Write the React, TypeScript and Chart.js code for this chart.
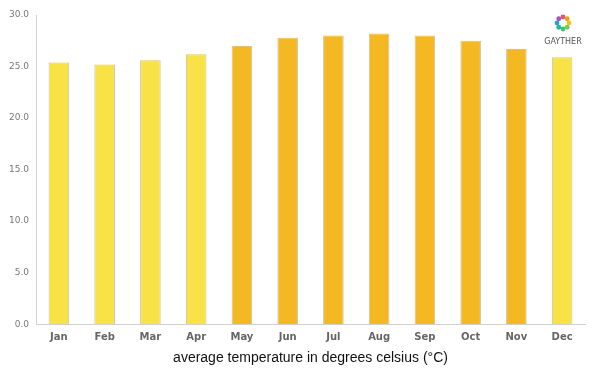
import React, { useEffect, useRef } from "react";
import { Chart, registerables } from "chart.js";

Chart.register(...registerables);

const months = ["Jan", "Feb", "Mar", "Apr", "May", "Jun", "Jul", "Aug", "Sep", "Oct", "Nov", "Dec"];
const temps = [25.4, 25.2, 25.6, 26.2, 27.0, 27.8, 28.0, 28.2, 28.0, 27.5, 26.7, 25.9];
const warmMonths = [false, false, false, false, true, true, true, true, true, true, true, false];
const yTicks = [0, 5, 10, 15, 20, 25, 30];
const axisTitle = "average temperature in degrees celsius (°C)";

const YELLOW = "#F9E245";
const ORANGE = "#F4B823";

const logoPlugin = {
  id: "logo",
  afterDraw(chart: any) {
    const ctx = chart.ctx;
    const cx = 563, cy = 23;
    const colors = ["#e94e77", "#f39c12", "#f1c40f", "#8bc34a", "#2ecc71", "#1abc9c", "#3498db", "#9b59b6"];
    ctx.save();
    for (let i = 0; i < 8; i++) {
      const a = (i / 8) * Math.PI * 2 - Math.PI / 2;
      ctx.fillStyle = colors[i];
      ctx.beginPath();
      ctx.arc(cx + Math.cos(a) * 6, cy + Math.sin(a) * 6, 2.4, 0, Math.PI * 2);
      ctx.fill();
    }
    ctx.fillStyle = "#555";
    ctx.font = "8px 'DejaVu Sans'";
    ctx.textAlign = "center";
    ctx.textBaseline = "middle";
    ctx.fillText("GAYTHER", cx, 42);
    ctx.restore();
  },
};

export default function App() {
  const ref = useRef<HTMLCanvasElement>(null);
  useEffect(() => {
    document.body.style.margin = "0";
    const chart = new Chart(ref.current!, {
      type: "bar",
      data: {
        labels: months,
        datasets: [
          {
            data: temps,
            backgroundColor: warmMonths.map((w) => (w ? ORANGE : YELLOW)),
            borderColor: "#c9c2a8",
            borderWidth: 1,
            barPercentage: 0.45,
            categoryPercentage: 1,
          },
        ],
      },
      options: {
        animation: false,
        responsive: false,
        maintainAspectRatio: false,
        layout: { padding: { top: 15, right: 15, left: 2, bottom: 8 } },
        plugins: { legend: { display: false }, tooltip: { enabled: false } },
        scales: {
          x: {
            grid: { display: false, drawTicks: false },
            border: { color: "#d0d0d0", width: 1 },
            ticks: {
              color: "#666",
              font: { family: "'DejaVu Sans'", size: 10, weight: "bold" },
              padding: 7,
            },
            title: {
              display: true,
              text: axisTitle,
              color: "#111",
              font: { family: "'Liberation Sans', Arial", size: 14 },
              padding: { top: 0, bottom: 0 },
            },
          },
          y: {
            min: 0,
            max: 30,
            afterBuildTicks: (axis: any) => {
              axis.ticks = yTicks.map((v) => ({ value: v }));
            },
            grid: { display: false, drawTicks: false },
            border: { color: "#d0d0d0", width: 1 },
            ticks: {
              color: "#777",
              font: { family: "'DejaVu Sans'", size: 9 },
              padding: 7,
              callback: (v: any) => Number(v).toFixed(1),
            },
          },
        },
      },
      plugins: [logoPlugin],
    });
    return () => chart.destroy();
  }, []);
  return (
    <div style={{ width: 600, height: 375 }}>
      <canvas ref={ref} width={600} height={375} />
    </div>
  );
}
